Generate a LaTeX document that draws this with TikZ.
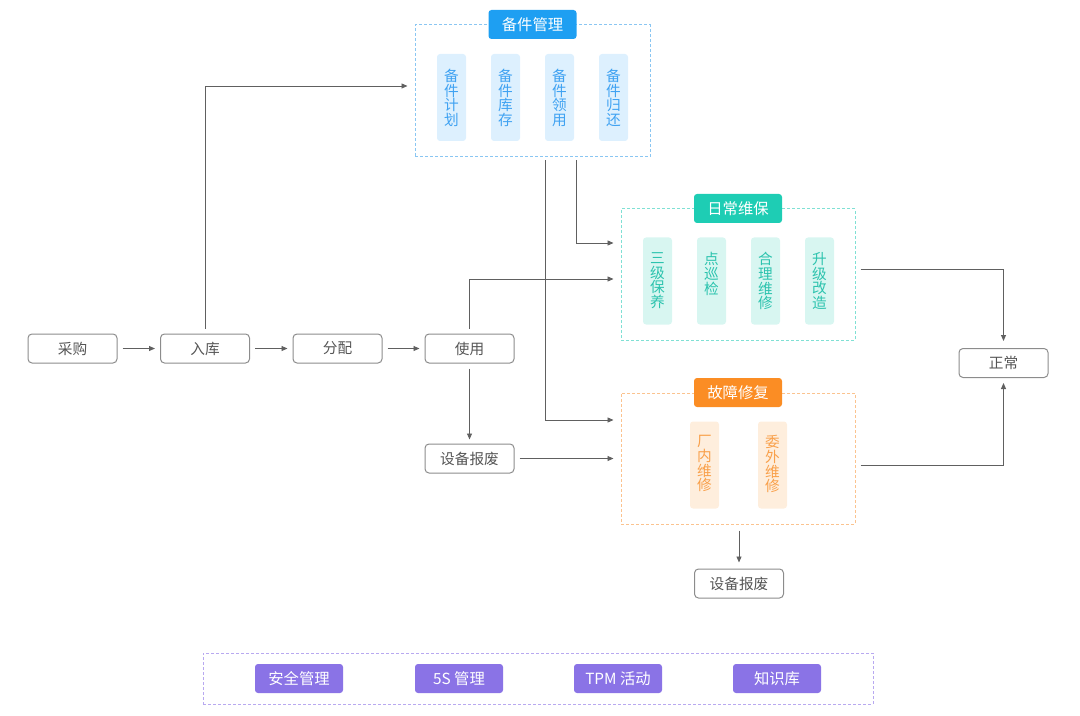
\documentclass[tikz,border=0pt]{standalone}
\usepackage{fontspec}
\setmainfont{Noto Sans CJK SC}
\usetikzlibrary{arrows.meta,calc}
\definecolor{boxgray}{HTML}{8C8C8C}
\definecolor{txtgray}{HTML}{555555}
\definecolor{arrgray}{HTML}{606060}
\definecolor{bjtag}{HTML}{1E9FF2}
\definecolor{bjline}{HTML}{8AC6F2}
\definecolor{bjbar}{HTML}{DDF0FE}
\definecolor{bjtxt}{HTML}{3FA2F2}
\definecolor{rctag}{HTML}{1ECDB4}
\definecolor{rcline}{HTML}{7FE0D4}
\definecolor{rcbar}{HTML}{D8F6F1}
\definecolor{rctxt}{HTML}{2CC3AE}
\definecolor{gztag}{HTML}{FB8D24}
\definecolor{gzline}{HTML}{FBC38F}
\definecolor{gzbar}{HTML}{FEEEDD}
\definecolor{gztxt}{HTML}{F9A04A}
\definecolor{jctag}{HTML}{8A73E6}
\definecolor{jcline}{HTML}{B8A9F0}

\begin{document}
\begin{tikzpicture}[x=0.75pt,y=-0.75pt,
    box/.style={draw=boxgray,rounded corners=3pt,line width=0.75pt,
      minimum width=66.75pt,minimum height=21.75pt,inner sep=0pt,
      text=txtgray,font=\fontsize{11}{12}\selectfont},
    arr/.style={-{Triangle[length=4.5pt,width=3.75pt]},draw=arrgray,
      line width=0.7pt,shorten <=3.75pt,shorten >=5.25pt},
    group/.style={draw=#1,dash pattern=on 2.25pt off 1.5pt,line width=0.75pt,
      inner sep=0pt},
    tag/.style={fill=#1,text=white,rounded corners=2.25pt,minimum width=66pt,
      minimum height=21.75pt,inner sep=0pt,font=\fontsize{11.5}{13}\selectfont},
    bar/.style={fill=#1,rounded corners=2.25pt,minimum width=21.75pt,
      minimum height=65.25pt,inner sep=0pt},
    bartext/.style={text=#1,anchor=north,align=center,inner sep=0pt,
      font=\fontsize{11}{11}\selectfont}]
    \useasboundingbox (0,0) rectangle (1080,716);

    % main flow
    \node[box] (caigou) at (72.5,348.5) {采购};
    \node[box] (ruku) at (205,348.5) {入库};
    \node[box] (fenpei) at (337.5,348.5) {分配};
    \node[box] (shiyong) at (469.5,348.5) {使用};
    \node[box] (baofei) at (469.5,458.5) {设备报废};
    \node[box] (baofeib) at (739,583.5) {设备报废};
    \node[box] (zhengchang) at (1003.5,363) {正常};

    % spare parts
    \node[group=bjline,minimum width=176.25pt,minimum height=99pt] (bj) at (532.5,91) {};
    \node[tag=bjtag] (bjtag) at (bj.north) {备件管理};
    \foreach \i/\x/\lbl in {1/451.5/{备\\件\\计\\划},2/505.5/{备\\件\\库\\存},
                            3/559.5/{备\\件\\领\\用},4/613.5/{备\\件\\归\\还}}{
      \node[bar=bjbar] (bj\i) at (\x,97.5) {};
      \node[bartext=bjtxt] (bjt\i) at ($(bj\i.north)+(0,15)$) {\lbl};
    }

    % daily maintenance
    \node[group=rcline,minimum width=175.5pt,minimum height=98.25pt] (rc) at (738,274.5) {};
    \node[tag=rctag] (rctag) at (rc.north) {日常维保};
    \foreach \i/\x/\lbl in {1/657.5/{三\\级\\保\\养},2/711.5/{点\\巡\\检},
                            3/765.5/{合\\理\\维\\修},4/819.5/{升\\级\\改\\造}}{
      \node[bar=rcbar] (rc\i) at (\x,281) {};
      \node[bartext=rctxt] (rct\i) at ($(rc\i.north)+(0,15)$) {\lbl};
    }

    % repair
    \node[group=gzline,minimum width=175.5pt,minimum height=98.25pt] (gz) at (738,458.5) {};
    \node[tag=gztag] (gztag) at (gz.north) {故障修复};
    \foreach \i/\x/\lbl in {1/704.5/{厂\\内\\维\\修},2/772.5/{委\\外\\维\\修}}{
      \node[bar=gzbar] (gz\i) at (\x,465) {};
      \node[bartext=gztxt] (gzt\i) at ($(gz\i.north)+(0,14)$) {\lbl};
    }

    % base
    \node[group=jcline,minimum width=502.5pt,minimum height=38.25pt] (jc) at (538,678.5) {};
    \foreach \i/\x/\lbl in {1/299/安全管理,2/459/5S 管理,3/618/TPM 活动,4/777/知识库}
      \node[tag=jctag] (jc\i) at (\x,678.5) {\lbl};

    % connectors
    \draw[arr,shorten >=3.75pt] (caigou) -- (ruku);
    \draw[arr,shorten >=3.75pt] (ruku) -- (fenpei);
    \draw[arr,shorten >=3.75pt] (fenpei) -- (shiyong);
    \draw[arr] (ruku.north) |- ($(bj.west)+(0,-5)$);
    \draw[arr] (shiyong.north) |- ($(rc.west)+(0,4.5)$);
    \draw[arr,shorten <=2.25pt] ($(bj.south)+(43.5,0)$) |- ($(rc.west)+(0,-31.5)$);
    \draw[arr,shorten <=2.25pt] ($(bj.south)+(12.5,0)$) |- ($(gz.west)+(0,-38.5)$);
    \draw[arr,shorten >=3pt] (shiyong) -- (baofei);
    \draw[arr] (baofei.east) -- (gz.west |- baofei.east);
    \draw[arr] ($(rc.east)+(0,-5.5)$) -| (zhengchang.north);
    \draw[arr,shorten >=3.75pt] ($(gz.east)+(0,6.5)$) -| (zhengchang.south);
    \draw[arr,shorten <=4.5pt,shorten >=4.5pt] (gz.south -| baofeib.north) -- (baofeib.north);
\end{tikzpicture}
\end{document}
